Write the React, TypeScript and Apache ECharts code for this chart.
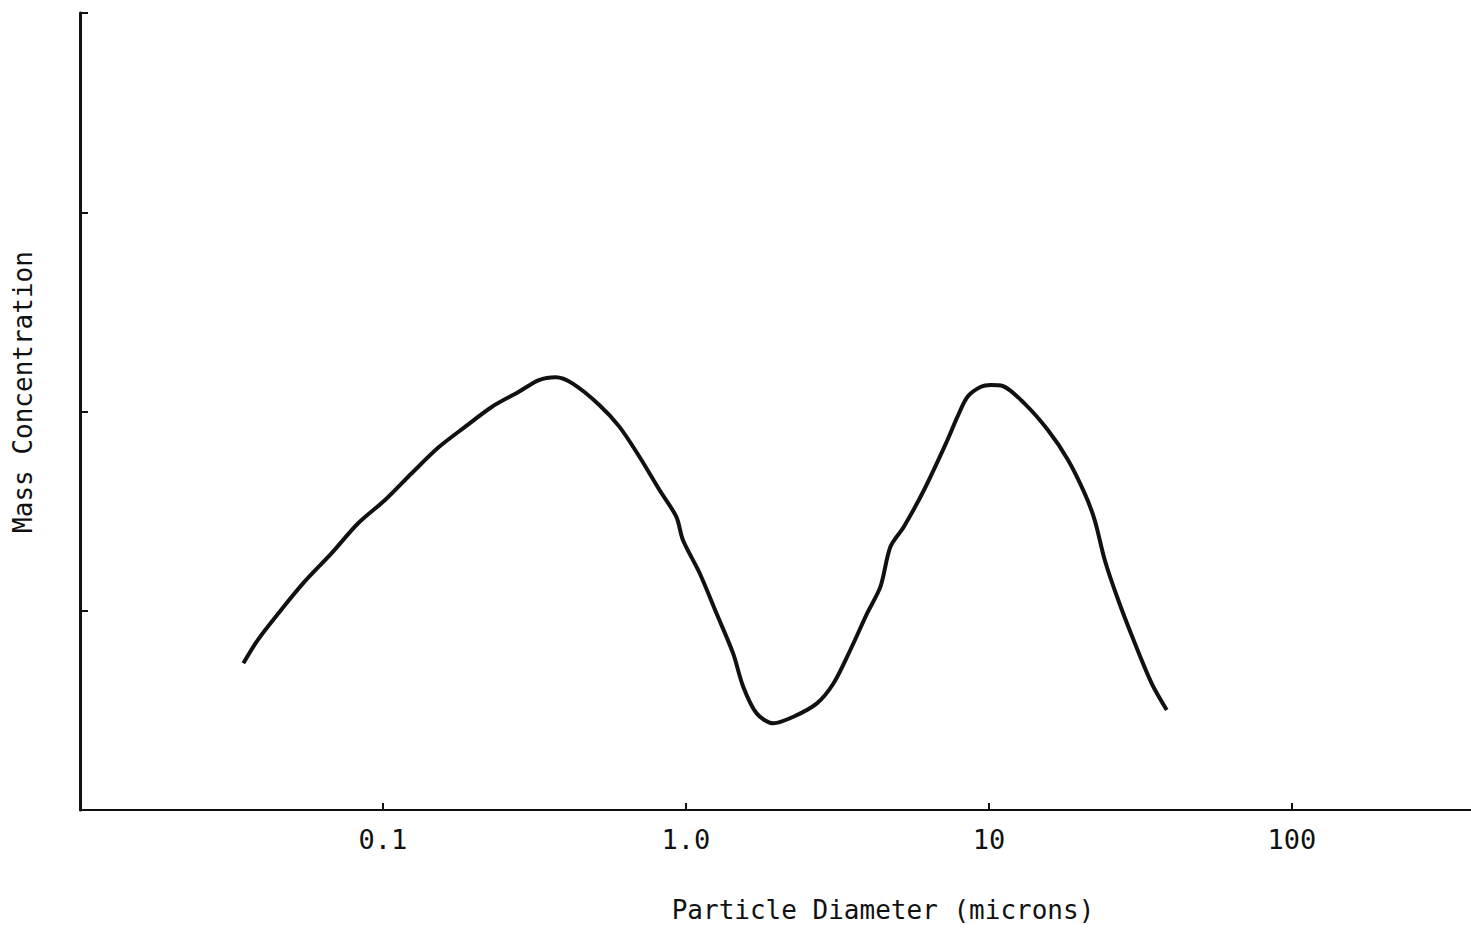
import React, { useEffect, useRef } from "react";
import * as echarts from "echarts";

// Particle diameter (microns) and mass concentration (arbitrary units)
const diameters: number[] = [
  0.0346, 0.0386, 0.0461, 0.0551, 0.0676, 0.0828, 0.1016, 0.1244, 0.1526, 0.187,
  0.2291, 0.2809, 0.3272, 0.3718, 0.4219, 0.5174, 0.6026, 0.7022, 0.8179, 0.9291,
  0.9772, 1.11, 1.261, 1.431, 1.545, 1.711, 1.942, 2.263, 2.705, 3.07,
  3.487, 3.962, 4.385, 4.732, 5.239, 6.105, 7.298, 7.874, 8.5, 9.408,
  10.15, 11.1, 13.09, 15.65, 18.24, 20.7, 22.34, 24.11, 26.71, 30.31,
  34.44, 38.62,
];
const concentrations: number[] = [
  0.736, 0.853, 1.004, 1.146, 1.288, 1.439, 1.556, 1.69, 1.82, 1.924,
  2.024, 2.099, 2.158, 2.172, 2.141, 2.033, 1.924, 1.773, 1.606, 1.472,
  1.355, 1.188, 0.987, 0.786, 0.619, 0.485, 0.435, 0.468, 0.535, 0.636,
  0.803, 0.987, 1.121, 1.322, 1.422, 1.606, 1.857, 1.974, 2.074, 2.124,
  2.133, 2.128, 2.041, 1.907, 1.757, 1.589, 1.455, 1.255, 1.054, 0.837,
  0.636, 0.502,
];
const xTickLabels: [number, string][] = [
  [0.1, "0.1"],
  [1, "1.0"],
  [10, "10"],
  [100, "100"],
];
const xAxisTitle = "Particle Diameter (microns)";
const yAxisTitle = "Mass Concentration";

const FONT = "'DejaVu Sans Mono', 'Liberation Mono', monospace";
const INK = "#111111";

export default function App() {
  const ref = useRef<HTMLDivElement>(null);

  useEffect(() => {
    if (!ref.current) return;
    const chart = echarts.init(ref.current, null, { renderer: "svg" });
    const data = diameters.map((d, i) => [d, concentrations[i]]);
    chart.setOption({
      animation: false,
      backgroundColor: "#ffffff",
      grid: { left: 80, right: 0, top: 13, bottom: 129, containLabel: false },
      xAxis: {
        type: "log",
        logBase: 10,
        min: 0.01,
        max: 390,
        axisLine: { show: true, lineStyle: { color: INK, width: 2 } },
        axisTick: { show: true, inside: true, length: 7, lineStyle: { color: INK, width: 2 } },
        splitLine: { show: false },
        axisLabel: {
          show: true,
          margin: 16,
          color: INK,
          fontFamily: FONT,
          fontSize: 27,
          showMinLabel: false,
          showMaxLabel: false,
          formatter: (v: number) => {
            for (const [val, lab] of xTickLabels) {
              if (Math.abs(Math.log10(v) - Math.log10(val)) < 0.01) return lab;
            }
            return "";
          },
        },
      },
      yAxis: {
        type: "value",
        min: 0,
        max: 4,
        interval: 1,
        axisLine: { show: true, lineStyle: { color: INK, width: 3 } },
        axisTick: { show: true, inside: true, length: 8, lineStyle: { color: INK, width: 2 } },
        axisLabel: { show: false },
        splitLine: { show: false },
      },
      graphic: [
        {
          type: "text",
          x: 883,
          y: 910,
          style: {
            text: xAxisTitle,
            fontFamily: FONT,
            fontSize: 26,
            fill: INK,
            textAlign: "center",
            textVerticalAlign: "middle",
          },
        },
        {
          type: "text",
          x: 23,
          y: 392,
          rotation: Math.PI / 2,
          style: {
            text: yAxisTitle,
            fontFamily: FONT,
            fontSize: 26,
            fill: INK,
            textAlign: "center",
            textVerticalAlign: "middle",
          },
        },
      ],
      series: [
        {
          type: "line",
          data,
          smooth: 0.3,
          showSymbol: false,
          symbol: "none",
          lineStyle: { color: INK, width: 4 },
        },
      ],
    });
    return () => chart.dispose();
  }, []);

  return (
    <div
      ref={ref}
      style={{ position: "absolute", left: 0, top: 0, width: 1471, height: 939, background: "#fff" }}
    />
  );
}
